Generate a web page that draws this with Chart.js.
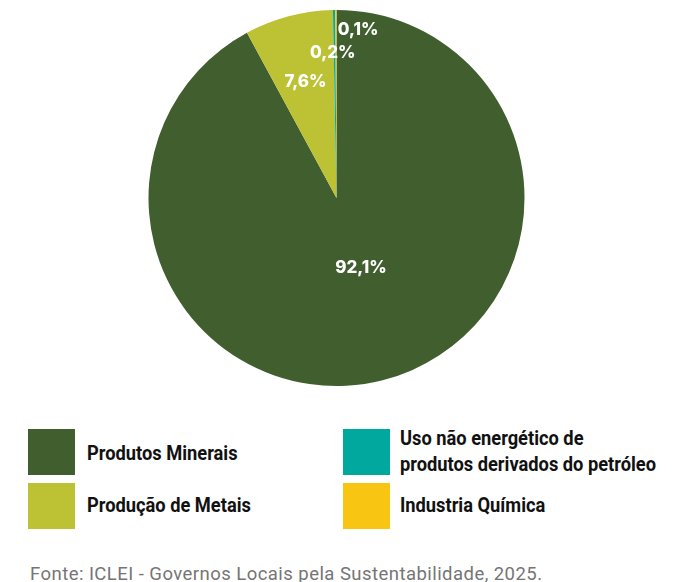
<!DOCTYPE html>
<html>
<head>
<meta charset="utf-8">
<script src="https://cdn.jsdelivr.net/npm/chart.js@4"></script>
<style>
  body { margin: 0; background: #fff; width: 691px; height: 582px; position: relative; overflow: hidden; font-family: Roboto, sans-serif; }
  #wrap { position: absolute; left: 0; top: 0; width: 673px; height: 396px; }
  .box { position: absolute; width: 47px; height: 46px; }
  .lbl { position: absolute; font-weight: 700; font-size: 21px; color: #111; white-space: nowrap; transform-origin: left top; transform: scaleX(0.87); line-height: 26px; }
  #src { position: absolute; left: 30px; top: 564px; font-size: 18.5px; line-height: 20px; letter-spacing: 0.45px; color: #757575; white-space: nowrap; }
</style>
</head>
<body>
<div id="wrap"><canvas id="pieChart"></canvas></div>
<div id="legend"></div>
<div id="src">Fonte: ICLEI - Governos Locais pela Sustentabilidade, 2025.</div>
<script>
// chart data
const categories = ["Produtos Minerais", "Produção de Metais", "Uso não energético de produtos derivados do petróleo", "Industria Química"];
const values = [92.1, 7.6, 0.2, 0.1];
const valueLabels = ["92,1%", "7,6%", "0,2%", "0,1%"];
const colors = ["#415E2F", "#BCC234", "#00A89D", "#F8C513"];

// where each value label sits, relative to pie center, as a fraction of the radius
const labelOffsets = [[0.13, 0.37], [-0.165, -0.615], [-0.02, -0.77], [0.115, -0.895]];

// legend layout (html, outside the canvas)
const legendItems = [
  { i: 0, box: [28, 429], text: [["Produtos Minerais", 87, 440]] },
  { i: 1, box: [28, 483], text: [["Produção de Metais", 87, 492]] },
  { i: 2, box: [343, 429], text: [["Uso não energético de", 400, 425], ["produtos derivados do petróleo", 400, 451]] },
  { i: 3, box: [343, 483], text: [["Industria Química", 400, 492]] },
];
const legend = document.getElementById("legend");
legendItems.forEach((it) => {
  const b = document.createElement("div");
  b.className = "box";
  b.style.left = it.box[0] + "px";
  b.style.top = it.box[1] + "px";
  b.style.background = colors[it.i];
  legend.appendChild(b);
  it.text.forEach(([t, x, y]) => {
    const s = document.createElement("div");
    s.className = "lbl";
    s.textContent = t;
    s.style.left = x + "px";
    s.style.top = y + "px";
    legend.appendChild(s);
  });
});

// draws the white percentage labels on the slices
const sliceLabels = {
  id: "sliceLabels",
  afterDatasetsDraw(chart) {
    const ctx = chart.ctx;
    const arcs = chart.getDatasetMeta(0).data;
    if (!arcs.length) return;
    const cx = arcs[0].x, cy = arcs[0].y, r = arcs[0].outerRadius;
    ctx.save();
    ctx.fillStyle = "#fff";
    ctx.font = "800 17px Inter, sans-serif";
    ctx.textAlign = "center";
    ctx.textBaseline = "middle";
    valueLabels.forEach((t, k) => {
      ctx.fillText(t, cx + labelOffsets[k][0] * r, cy + labelOffsets[k][1] * r);
    });
    ctx.restore();
  },
};

new Chart(document.getElementById("pieChart"), {
  type: "pie",
  data: {
    labels: categories,
    datasets: [{ data: values, backgroundColor: colors, borderWidth: 0 }],
  },
  options: {
    responsive: true,
    maintainAspectRatio: false,
    animation: false,
    layout: { padding: { top: 10, bottom: 10 } },
    plugins: { legend: { display: false }, tooltip: { enabled: false } },
  },
  plugins: [sliceLabels],
});
</script>
</body>
</html>
